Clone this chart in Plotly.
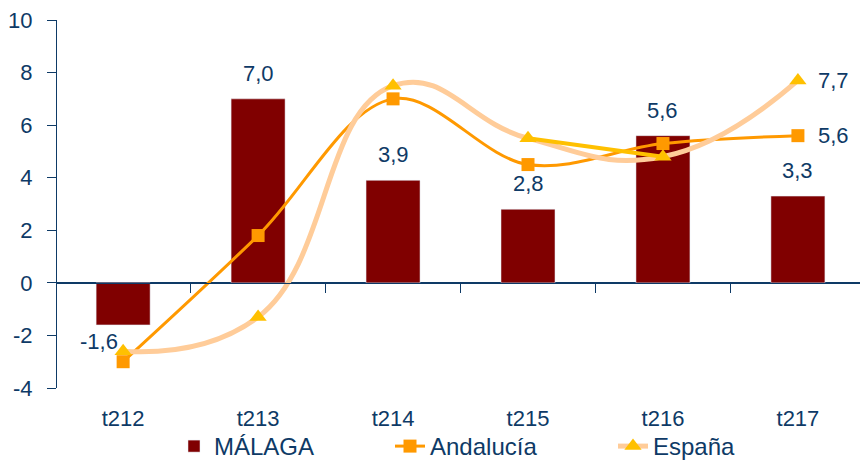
import plotly.graph_objects as go

categories = ["t212", "t213", "t214", "t215", "t216", "t217"]
malaga = [-1.6, 7.0, 3.9, 2.8, 5.6, 3.3]
andalucia = [-3.0, 1.8, 7.0, 4.5, 5.3, 5.6]
espana = [-2.6, -1.3, 7.5, 5.5, 4.8, 7.7]
y_ticks = [-4, -2, 0, 2, 4, 6, 8, 10]

NAVY = "#0E3A66"
FONT = "Liberation Sans, Arial, sans-serif"
y_min, y_max = -4, 10

def fmt(v):
    return f"{v:.1f}".replace(".", ",")

fig = go.Figure()
fig.add_trace(go.Bar(x=categories, y=malaga, name="MÁLAGA", marker_color="#800000",
                     width=0.4, xaxis="x", yaxis="y", legendwidth=171))
fig.add_trace(go.Scatter(x=categories, y=andalucia, name="Andalucía", mode="lines+markers",
                         line=dict(color="#FF9900", width=3, shape="spline", smoothing=1.0),
                         marker=dict(symbol="square", size=13, color="#FF9900"),
                         xaxis="x2", yaxis="y", legendwidth=178))
fig.add_trace(go.Scatter(x=categories, y=espana, name="España", mode="lines",
                         line=dict(color="#FFCC99", width=5, shape="spline", smoothing=1.3),
                         xaxis="x2", yaxis="y", showlegend=False))
fig.add_trace(go.Scatter(x=categories[3:5], y=espana[3:5], mode="lines",
                         line=dict(color="#FFC000", width=4),
                         xaxis="x2", yaxis="y", showlegend=False, hoverinfo="skip"))
fig.add_trace(go.Scatter(x=categories, y=espana, name="España", mode="markers",
                         marker=dict(symbol="triangle-up", size=15, color="#FFC000"),
                         xaxis="x2", yaxis="y", showlegend=False))
fig.add_trace(go.Scatter(x=[None], y=[None], name="España", mode="lines+markers",
                         line=dict(color="#FFCC99", width=5),
                         marker=dict(symbol="triangle-up", size=15, color="#FFC000"),
                         xaxis="x2", yaxis="y"))

LBL = dict(size=22, color=NAVY, family=FONT)
annotations = []
for c, v in zip(categories, malaga):
    if v >= 0:
        annotations.append(dict(x=c, y=v, xref="x", yref="y", text=fmt(v), showarrow=False,
                                yanchor="bottom", yshift=11, font=LBL))
    else:
        annotations.append(dict(x=c, y=v, xref="x", yref="y", text=fmt(v), showarrow=False,
                                yanchor="top", xshift=-24, yshift=-2, font=LBL))
annotations.append(dict(x=categories[-1], y=andalucia[-1], xref="x2", yref="y", text=fmt(andalucia[-1]),
                        showarrow=False, xanchor="left", xshift=18, font=LBL))
annotations.append(dict(x=categories[-1], y=espana[-1], xref="x2", yref="y", text=fmt(espana[-1]),
                        showarrow=False, xanchor="left", xshift=18, font=LBL))

x_range = [-0.49, 5.46]
plot_h = 469 - 20 - 81
fig.update_layout(
    width=860, height=469,
    margin=dict(l=57, r=0, t=20, b=81),
    plot_bgcolor="white", paper_bgcolor="white",
    font=dict(family=FONT, color=NAVY, size=22),
    xaxis=dict(type="category", range=x_range, showline=False, ticks="", showgrid=False,
               zeroline=False, tickfont=dict(size=22, color=NAVY), automargin=False,
               ticklabelstandoff=15),
    xaxis2=dict(type="category", range=x_range, overlaying="x", anchor="free",
                position=(0 - y_min) / (y_max - y_min), showline=True, linecolor=NAVY, linewidth=1,
                ticks="outside", tickson="boundaries", ticklen=9, tickcolor=NAVY,
                showticklabels=False, showgrid=False, zeroline=False, automargin=False),
    yaxis=dict(range=[y_min, y_max], tickvals=y_ticks, ticktext=[str(t) for t in y_ticks],
               showline=True, linecolor=NAVY, linewidth=1,
               ticks="outside", ticklen=9, tickcolor=NAVY, showgrid=False, zeroline=True,
               zerolinecolor=NAVY, zerolinewidth=1, tickfont=dict(size=22, color=NAVY),
               automargin=False, ticklabelstandoff=10),
    legend=dict(orientation="h", x=(174 - 57) / 803, xanchor="left", y=-81 / plot_h, yanchor="bottom",
                font=dict(size=24, color=NAVY), traceorder="normal", bgcolor="rgba(0,0,0,0)"),
    annotations=annotations,
)

fig.write_html("out.html", config={"displayModeBar": False},
               post_script="document.body.style.margin='0';document.body.style.overflow='hidden';")
